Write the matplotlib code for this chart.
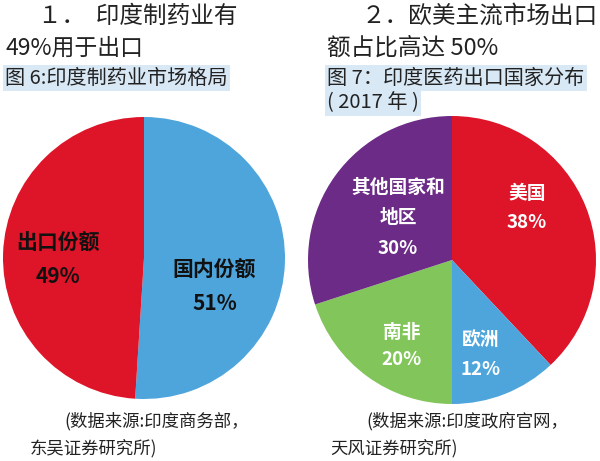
import matplotlib
matplotlib.use("Agg")
import matplotlib.pyplot as plt

plt.rcParams['font.family'] = ['Noto Sans CJK SC', 'DejaVu Sans']

W, H = 600, 461

# left chart data
left_labels = ['国内份额', '出口份额']
left_values = [51, 49]
left_colors = ['#4ea5dc', '#de1428']

# right chart data
right_labels = ['美国', '欧洲', '南非', '其他国家和\n地区']
right_values = [38, 12, 20, 30]
right_colors = ['#de1428', '#4ea5dc', '#82c55b', '#6b2b86']


def px(x, y):
    # pixel coords (top-left origin) -> figure fraction
    return x / W, 1 - y / H


def pie_axes(fig, cx, cy, r):
    x0, y0 = px(cx - r, cy + r)
    return fig.add_axes([x0, y0, 2 * r / W, 2 * r / H])


fig = plt.figure(figsize=(W / 100, H / 100), dpi=100)

# ---- left pie
ax1 = pie_axes(fig, 144, 258, 141)
ax1.pie(left_values, colors=left_colors, startangle=90, counterclock=False,
        radius=1, wedgeprops=dict(linewidth=0))
ax1.set_xlim(-1, 1)
ax1.set_ylim(-1, 1)
ax1.set_aspect('auto')
ax1.axis('off')

left_pos = [(0.50, -0.085), (-0.61, 0.106)]
for lab, val, (x, y) in zip(left_labels, left_values, left_pos):
    ax1.text(x, y, lab, ha='center', va='center', fontsize=15,
             fontweight='bold', color='#111111')
    ax1.text(x, y - 0.235, f'{val}%', ha='center', va='center',
             fontsize=15, fontweight='bold', color='#111111')

# ---- right pie
ax2 = pie_axes(fig, 452, 260, 144)
ax2.pie(right_values, colors=right_colors, startangle=90, counterclock=False,
        radius=1, wedgeprops=dict(linewidth=0))
ax2.set_xlim(-1, 1)
ax2.set_ylim(-1, 1)
ax2.set_aspect('auto')
ax2.axis('off')

right_pos = [(0.52, 0.465, 0.257), (0.195, -0.555, -0.76),
             (-0.35, -0.50, -0.69), (-0.375, 0.40, 0.083)]
for lab, val, (x, y, yv) in zip(right_labels, right_values, right_pos):
    ax2.text(x, y, lab, ha='center', va='center', fontsize=13.5,
             fontweight='bold', color='white', linespacing=1.7)
    ax2.text(x, yv, f'{val}%', ha='center', va='center', fontsize=13.5,
             fontweight='bold', color='white')

# ---- headings
hl = dict(facecolor='#d8e8f5', edgecolor='none', boxstyle='square,pad=0.12')

fig.text(*px(38, 16), '１．  印度制药业有', fontsize=17, va='center', color='#222222')
fig.text(*px(5, 48), '49%用于出口', fontsize=16.5, va='center', color='#222222')
fig.text(*px(5, 78), '图 6:印度制药业市场格局', fontsize=14.5, va='center',
         color='#222222', bbox=hl)

fig.text(*px(362, 16), '２．欧美主流市场出口', fontsize=17, va='center', color='#222222')
fig.text(*px(327, 48), '额占比高达 50%', fontsize=17, va='center', color='#222222')
fig.text(*px(327, 78), '图 7：印度医药出口国家分布', fontsize=14.5, va='center',
         color='#222222', bbox=hl)
fig.text(*px(327, 103), '( 2017 年 )', fontsize=14.5, va='center',
         color='#222222', bbox=hl)

# ---- sources
fig.text(*px(64, 421), '(数据来源:印度商务部，', fontsize=12.5, va='center', color='#222222')
fig.text(*px(30, 448), '东吴证券研究所)', fontsize=12.5, va='center', color='#222222')
fig.text(*px(366, 421), '(数据来源:印度政府官网，', fontsize=12.5, va='center', color='#222222')
fig.text(*px(330, 448), '天风证券研究所)', fontsize=12.5, va='center', color='#222222')

fig.savefig('out.png', dpi=100)
